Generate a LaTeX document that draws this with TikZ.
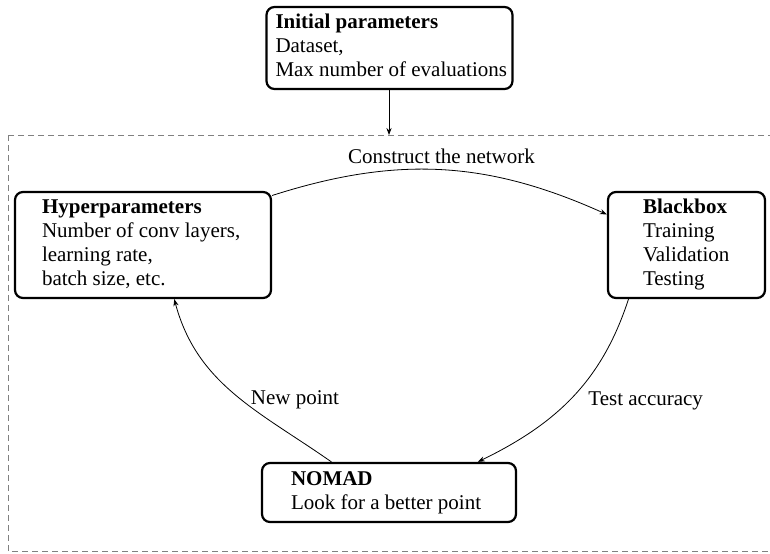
\documentclass[tikz,border=0pt]{standalone}
\usepackage{fontspec}
\setmainfont{Liberation Serif}
\usetikzlibrary{arrows.meta}
\newcommand{\boxtext}[3]{\makebox[#1][l]{\hspace{#2}\begin{tabular}{@{}l@{}}#3\end{tabular}}}
\begin{document}
\begin{tikzpicture}[x=0.5pt,y=0.5pt,
  box/.style={draw, line width=1.1pt, rounded corners=4pt, inner sep=0pt, font=\fontsize{10.5}{12}\selectfont},
  conn/.style={line width=0.4pt, -{Stealth[length=3.5pt,width=2.6pt]}},
  lbl/.style={font=\fontsize{10.5}{12}\selectfont, inner sep=0pt},
  frame/.style={draw=gray, line width=0.5pt, dash pattern=on 3pt off 2pt}]
\clip (0,0) rectangle (770,553);
\draw[frame] (8,418) rectangle (790,2);
\node[box, minimum height=41pt] (init) at (389.5,505)
  {\boxtext{123pt}{4.5pt}{\textbf{Initial parameters}\\Dataset,\\Max number of evaluations}};
\node[box, minimum height=53pt] (hyp) at (143,308)
  {\boxtext{128pt}{13.5pt}{\textbf{Hyperparameters}\\Number of conv layers,\\learning rate,\\batch size, etc.}};
\node[box, minimum height=53pt] (bb) at (686.5,308)
  {\boxtext{78.5pt}{17.5pt}{\textbf{Blackbox}\\Training\\Validation\\Testing}};
\node[box, minimum height=29.5pt] (nomad) at (389,60.5)
  {\boxtext{127pt}{14.5pt}{\textbf{NOMAD}\\Look for a better point}};
\coordinate (dtop) at (389,418);
\draw[conn] (init.south -| dtop) -- (dtop);
\draw[conn] (hyp) to[bend left=21] node[lbl, midway, above=3pt] (cn) {Construct the network} (bb);
\draw[conn] (bb.223) to[out=-108, in=26] (nomad.19);
\draw[conn] (nomad.152) to[out=145, in=-75] (hyp.-60);
\node[lbl, anchor=base west] (tacc) at (588,148) {Test accuracy};
\node[lbl, anchor=base] (np) at (295,149) {New point};
\end{tikzpicture}
\end{document}
